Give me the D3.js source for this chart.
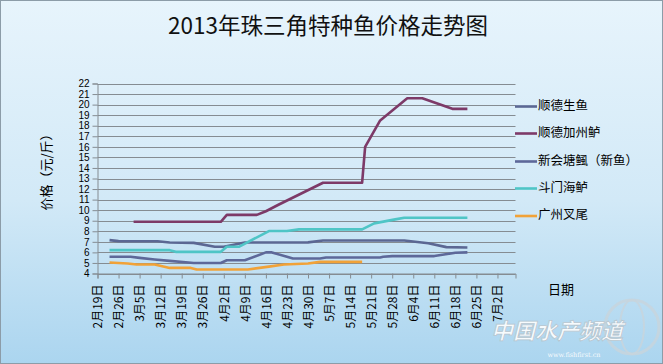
<!DOCTYPE html>
<html><head><meta charset="utf-8">
<script src="https://cdn.jsdelivr.net/npm/d3@7"></script>
<style>body{margin:0;padding:0;overflow:hidden}svg{display:block}</style>
</head><body>
<script>
const title = "2013年珠三角特种鱼价格走势图";
const yTitle = "价格（元/斤）";
const xTitle = "日期";
const seriesNames = ["顺德生鱼", "顺德加州鲈", "新会塘鲺（新鱼）", "斗门海鲈", "广州叉尾"];
const seriesColors = ["#5B6793", "#7D3A68", "#5D6899", "#4FC5C6", "#F1A238"];
const xTickLabels = ["2月19日","2月26日","3月5日","3月12日","3月19日","3月26日","4月2日","4月9日","4月16日","4月23日","4月30日","5月7日","5月14日","5月21日","5月28日","6月4日","6月11日","6月18日","6月25日","7月2日"];
const yTicks = [4,5,6,7,8,9,10,11,12,13,14,15,16,17,18,19,20,21,22];

const shengyuDates  = ["02-23","02-26","03-11","03-15","03-23","03-30","04-02","04-09","04-30","05-05","06-01","06-09","06-15","06-22"];
const shengyuValues = [7.16, 7.07, 7.05, 6.93, 6.9, 6.53, 6.53, 6.93, 6.95, 7.12, 7.12, 6.86, 6.5, 6.46];

const luDates  = ["03-03","04-01","04-03","04-13","04-16","04-20","05-05","05-18","05-19","05-24","06-02","06-07","06-17","06-22"];
const luValues = [8.9, 8.9, 9.55, 9.55, 9.9, 10.49, 12.6, 12.6, 16.0, 18.5, 20.6, 20.6, 19.6, 19.6];

const tangshiDates  = ["02-23","03-02","03-05","03-10","03-15","03-23","04-01","04-03","04-09","04-16","04-18","04-25","05-04","05-06","05-24","05-25","05-28","06-11","06-18","06-22"];
const tangshiValues = [5.58, 5.58, 5.48, 5.33, 5.2, 5.0, 5.0, 5.26, 5.26, 6.0, 6.0, 5.42, 5.42, 5.52, 5.52, 5.58, 5.65, 5.65, 5.96, 6.0];

const hailuDates  = ["02-23","03-15","03-17","04-01","04-03","04-07","04-17","04-23","04-27","05-18","05-22","05-29","06-01","06-22"];
const hailuValues = [6.21, 6.21, 6.05, 6.05, 6.53, 6.53, 8.02, 8.02, 8.18, 8.18, 8.75, 9.13, 9.28, 9.28];

const chaweiDates  = ["02-23","03-01","03-04","03-10","03-15","03-22","03-24","04-10","04-17","04-22","04-30","05-04","05-18"];
const chaweiValues = [5.04, 4.95, 4.85, 4.85, 4.53, 4.53, 4.38, 4.38, 4.65, 4.85, 4.95, 5.1, 5.1];

const seriesDates = [shengyuDates, luDates, tangshiDates, hailuDates, chaweiDates];
const seriesValues = [shengyuValues, luValues, tangshiValues, hailuValues, chaweiValues];

const W = 663, H = 364;
const parseMD = s => { const [m,d] = s.split("-").map(Number); return new Date(2013, m-1, d); };
const parseCN = s => { const m = s.match(/(\d+)月(\d+)日/); return new Date(2013, +m[1]-1, +m[2]); };

const svg = d3.select("body").append("svg").attr("width", W).attr("height", H);
const defs = svg.append("defs");
const grad = defs.append("linearGradient").attr("id","bg").attr("x1",0).attr("y1",0).attr("x2",0).attr("y2",1);
grad.append("stop").attr("offset","0%").attr("stop-color","#E7F4FC");
grad.append("stop").attr("offset","55%").attr("stop-color","#D2E9F7");
grad.append("stop").attr("offset","100%").attr("stop-color","#ABD5EF");
svg.append("rect").attr("width",W).attr("height",H).attr("fill","url(#bg)");
svg.append("rect").attr("x",0.5).attr("y",0.5).attr("width",W-1).attr("height",H-1).attr("fill","none").attr("stroke","#8C9CA8");

const x = d3.scaleTime().domain([new Date(2013,1,19), new Date(2013,6,8)]).range([97.5, 515.5]);
const y = d3.scaleLinear().domain([4, 22]).range([273.5, 83.5]);

const font = "'Noto Sans CJK SC', 'Liberation Sans', sans-serif";

// title
svg.append("text").attr("x", 328).attr("y", 28).attr("text-anchor","middle").attr("dominant-baseline","middle")
  .style("font-family", "'Noto Sans CJK SC', sans-serif").style("font-size","22.5px").attr("fill","#111").text(title);

// gridlines
svg.append("g").selectAll("line").data(yTicks).join("line")
  .attr("x1", x.range()[0]).attr("x2", x.range()[1])
  .attr("y1", d => Math.round(y(d)) + 0.5).attr("y2", d => Math.round(y(d)) + 0.5)
  .attr("stroke","#858C92").attr("stroke-width",1);

// y axis
const yAxis = svg.append("g").attr("transform", `translate(${x.range()[0]},0)`)
  .call(d3.axisLeft(y).tickValues(yTicks).tickSize(5).tickPadding(3).tickFormat(d3.format("d")));
yAxis.selectAll("path,line").attr("stroke","#858C92");
yAxis.selectAll("text").style("font-family","'Liberation Sans', Arial, sans-serif").style("font-size","10px").attr("fill","#000");

// x axis
const xTickDates = xTickLabels.map(parseCN);
const xAxis = svg.append("g").attr("transform", `translate(0,${y(4)})`)
  .call(d3.axisBottom(x).tickValues(xTickDates).tickSize(5).tickFormat((d,i) => xTickLabels[i]));
xAxis.selectAll("path,line").attr("stroke","#858C92");
xAxis.selectAll("text").attr("transform","rotate(-90)").attr("x",-11).attr("y",0).attr("dy","0.35em")
  .style("text-anchor","end").style("font-family",font).style("font-size","12px").attr("fill","#000");

// axis titles
svg.append("text").attr("transform","translate(47,169) rotate(-90)").attr("text-anchor","middle").attr("dominant-baseline","middle")
  .style("font-family",font).style("font-size","13px").attr("fill","#000").text(yTitle);
svg.append("text").attr("x",561).attr("y",290).attr("text-anchor","middle").attr("dominant-baseline","middle")
  .style("font-family",font).style("font-size","13px").attr("fill","#000").text(xTitle);

// lines
const line = d3.line().x(d => x(d.date)).y(d => y(d.value));
seriesNames.forEach((name, i) => {
  const pts = seriesDates[i].map((s, j) => ({date: parseMD(s), value: seriesValues[i][j]}));
  svg.append("path").datum(pts).attr("d", line).attr("fill","none")
    .attr("stroke", seriesColors[i]).attr("stroke-width", 2.6).attr("stroke-linejoin","round");
});

// legend
const legendY = [106.5, 133.5, 161.5, 188.5, 216];
const lg = svg.append("g");
seriesNames.forEach((name, i) => {
  lg.append("line").attr("x1",515).attr("x2",537).attr("y1",legendY[i]).attr("y2",legendY[i])
    .attr("stroke",seriesColors[i]).attr("stroke-width",2.6);
  lg.append("text").attr("x",538).attr("y",legendY[i]).attr("dominant-baseline","middle")
    .style("font-family",font).style("font-size","12.5px").attr("fill","#000").text(name);
});

// watermark
const wm = svg.append("g");
wm.append("circle").attr("cx",632).attr("cy",327).attr("r",27).attr("fill","none").attr("stroke","#C8D4DC").attr("stroke-width",3).attr("opacity",0.8);
wm.append("ellipse").attr("cx",632).attr("cy",327).attr("rx",12).attr("ry",27).attr("fill","none").attr("stroke","#C8D4DC").attr("stroke-width",2).attr("opacity",0.8);
wm.append("text").attr("x",557).attr("y",339).attr("text-anchor","middle")
  .style("font-family",font).style("font-size","22px").style("font-weight","bold").style("font-style","italic")
  .attr("fill","#FFFFFF").attr("stroke","#B8C4CC").attr("stroke-width",0.8).attr("opacity",0.9).text("中国水产频道");
wm.append("text").attr("x",574).attr("y",357).attr("text-anchor","middle")
  .style("font-family","'DejaVu Serif', serif").style("font-size","6.5px").attr("fill","#FFFFFF").attr("opacity",0.9).text("www.fishfirst.cn");
</script>
</body></html>
